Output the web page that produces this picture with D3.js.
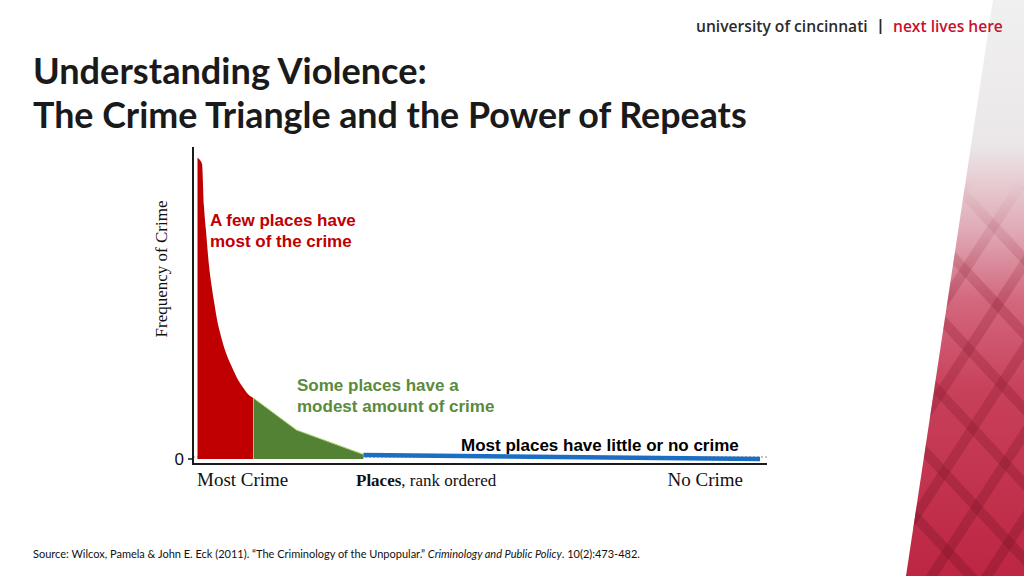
<!DOCTYPE html>
<html><head><meta charset="utf-8">
<script src="https://cdn.jsdelivr.net/npm/d3@7"></script>
<style>
html,body{margin:0;padding:0;background:#fff;}
svg{display:block;}
</style></head>
<body>
<script>
// ---- data ----
const redRanks   = [0, 0.8, 1.15, 1.5, 2, 2.5, 3, 3.5, 4, 5, 6, 7, 8, 9, 9.95];
const redFreq    = [100, 98, 84, 76, 65, 57.5, 51.5, 46, 42, 35.5, 31, 27, 24, 21.5, 20.2];
const greenRanks = [9.95, 17.6, 29.5];
const greenFreq  = [20.2, 9.6, 1.5];
const blueRanks  = [29.5, 100];
const blueFreq   = [1.3, 0];
const yTicks     = [0];
const titleLines = ["Understanding Violence:", "The Crime Triangle and the Power of Repeats"];
const annotations = [
  {lines:["A few places have","most of the crime"], color:"#C00000"},
  {lines:["Some places have a","modest amount of crime"], color:"#5A8A3C"},
  {lines:["Most places have little or no crime"], color:"#000"}
];

const W = 1024, H = 576;
const svg = d3.select("body").append("svg").attr("width", W).attr("height", H);
const defs = svg.append("defs");

// ---- right decorative band ----
const grad = defs.append("linearGradient").attr("id","bandGrad").attr("x1",0).attr("y1",0).attr("x2",0).attr("y2",1);
[[0,"#f0f0f0"],[0.25,"#ebe7e8"],[0.4,"#e0aab6"],[0.52,"#d3687e"],[0.68,"#c8405a"],[1,"#bd2642"]]
  .forEach(([o,c]) => grad.append("stop").attr("offset",o).attr("stop-color",c));
const lg = defs.append("linearGradient").attr("id","lineGrad").attr("gradientUnits","userSpaceOnUse")
  .attr("x1",0).attr("y1",180).attr("x2",0).attr("y2",576);
[[0,"#8a1a30",0],[0.3,"#8a1a30",0.25],[1,"#7a1226",0.35]]
  .forEach(([o,c,op]) => lg.append("stop").attr("offset",o).attr("stop-color",c).attr("stop-opacity",op));
defs.append("clipPath").attr("id","bandClip").append("polygon").attr("points","993,0 1024,0 1024,576 906,576");
const band = svg.append("g").attr("clip-path","url(#bandClip)");
band.append("rect").attr("x",900).attr("y",0).attr("width",124).attr("height",576).attr("fill","url(#bandGrad)");
const gl = band.append("g").attr("stroke","url(#lineGrad)").attr("stroke-width",10);
for (let i=-4;i<8;i++){
  gl.append("line").attr("x1",900).attr("y1",200+i*75).attr("x2",1030).attr("y2",340+i*75);
  gl.append("line").attr("x1",1030).attr("y1",170+i*85).attr("x2",900).attr("y2",370+i*85);
}

function fitWidth(sel, target){
  const w = sel.node().getComputedTextLength();
  const fs = parseFloat(sel.style("font-size"));
  sel.style("font-size", (fs*target/w)+"px");
}

// ---- header logo ----
const logoFont = "'Open Sans', sans-serif";
const l1 = svg.append("text").attr("x",696).attr("y",32).attr("fill","#2b2b2b")
  .style("font-family",logoFont).style("font-weight",600).style("font-size","15.5px").text("university of cincinnati");
fitWidth(l1, 172);
svg.append("line").attr("x1",880.5).attr("x2",880.5).attr("y1",19).attr("y2",34).attr("stroke","#2b2b2b").attr("stroke-width",1.8);
const l3 = svg.append("text").attr("x",893).attr("y",32).attr("fill","#C8102E")
  .style("font-family",logoFont).style("font-weight",600).style("font-size","15.5px").text("next lives here");
fitWidth(l3, 110);

// ---- title ----
const titleY = [84, 128];
titleLines.forEach((t,i) => {
  const tt = svg.append("text").attr("x",33).attr("y",titleY[i])
    .style("font-family","Lato, 'Open Sans', sans-serif").style("font-weight",700)
    .style("font-size","33px").attr("fill","#1a1a1a").text(t);
  fitWidth(tt, i===0 ? 394 : 714);
});

// ---- chart ----
const x = d3.scaleLinear().domain([0,100]).range([197.5,760]);
const y = d3.scaleLinear().domain([0,100]).range([459,157.7]);

svg.append("line").attr("x1",193).attr("x2",767).attr("y1",y(0)-2).attr("y2",y(0)-2)
  .attr("stroke","#888").attr("stroke-width",1).attr("stroke-dasharray","2,2");

const redData = redRanks.map((r,i)=>[r,redFreq[i]]);
const greenData = greenRanks.map((r,i)=>[r,greenFreq[i]]);
const blueData = blueRanks.map((r,i)=>[r,blueFreq[i]]);
const area = d3.area().x(d=>x(d[0])).y0(y(0)).y1(d=>y(d[1])).curve(d3.curveMonotoneX);
const areaLin = d3.area().x(d=>x(d[0])).y0(y(0)).y1(d=>y(d[1]));
const lineLin = d3.line().x(d=>x(d[0])).y(d=>y(d[1]));

svg.append("path").datum(greenData).attr("fill","#548235").attr("d", areaLin);
svg.append("path").datum(greenData).attr("fill","none").attr("stroke","#a8d36a").attr("stroke-width",1).attr("d", lineLin);
svg.append("path").datum(redData).attr("fill","#C00000").attr("d", area);
svg.append("line").attr("x1",x(redRanks[redRanks.length-1])).attr("x2",x(redRanks[redRanks.length-1]))
  .attr("y1",y(0)).attr("y2",y(redFreq[redFreq.length-1])).attr("stroke","#d9b060").attr("stroke-width",1);
svg.append("path").datum(blueData).attr("fill","none").attr("stroke","#1b6ec2").attr("stroke-width",4.5)
  .attr("d", lineLin);

// axes
svg.append("line").attr("x1",193).attr("x2",193).attr("y1",147).attr("y2",465).attr("stroke","#1a1a1a").attr("stroke-width",2);
svg.append("line").attr("x1",192).attr("x2",767).attr("y1",464).attr("y2",464).attr("stroke","#1a1a1a").attr("stroke-width",2);
yTicks.forEach(v => {
  svg.append("line").attr("x1",188).attr("x2",193).attr("y1",y(v)).attr("y2",y(v)).attr("stroke","#1a1a1a").attr("stroke-width",1.5);
  svg.append("text").attr("x",184).attr("y",y(v)).attr("dy","0.35em").attr("text-anchor","end")
    .style("font-family","'Liberation Sans', Arial, sans-serif").style("font-size","17px").attr("fill","#111").text(v);
});

// axis labels
const serif = "'Liberation Serif', 'Times New Roman', serif";
svg.append("text").attr("transform","translate(167,269) rotate(-90)").attr("text-anchor","middle")
  .style("font-family",serif).style("font-size","17px").attr("fill","#111").text("Frequency of Crime");
svg.append("text").attr("x",197).attr("y",486).style("font-family",serif).style("font-size","19px").attr("fill","#111").text("Most Crime");
svg.append("text").attr("x",743).attr("y",486).attr("text-anchor","end").style("font-family",serif).style("font-size","19px").attr("fill","#111").text("No Crime");
const pl = svg.append("text").attr("x",356).attr("y",486).style("font-family",serif).style("font-size","17px").attr("fill","#111");
pl.append("tspan").style("font-weight",700).text("Places");
pl.append("tspan").text(", rank ordered");

// annotations
const annPos = [{x:210,y:226},{x:297,y:391},{x:461,y:451}];
annotations.forEach((a,i) => {
  a.lines.forEach((ln,j) => {
    svg.append("text").attr("x",annPos[i].x).attr("y",annPos[i].y + j*21)
      .style("font-family","'Liberation Sans', Arial, sans-serif").style("font-weight",700)
      .style("font-size","17px").attr("fill",a.color).text(ln);
  });
});

// source
const src = svg.append("text").attr("x",33).attr("y",558)
  .style("font-family","Lato, 'Open Sans', sans-serif").style("font-size","11px").attr("fill","#111");
src.append("tspan").text("Source: Wilcox, Pamela & John E. Eck (2011). \u201CThe Criminology of the Unpopular.\u201D ");
src.append("tspan").style("font-style","italic").text("Criminology and Public Policy");
src.append("tspan").text(". 10(2):473-482.");
fitWidth(src, 607);
</script>
</body></html>
